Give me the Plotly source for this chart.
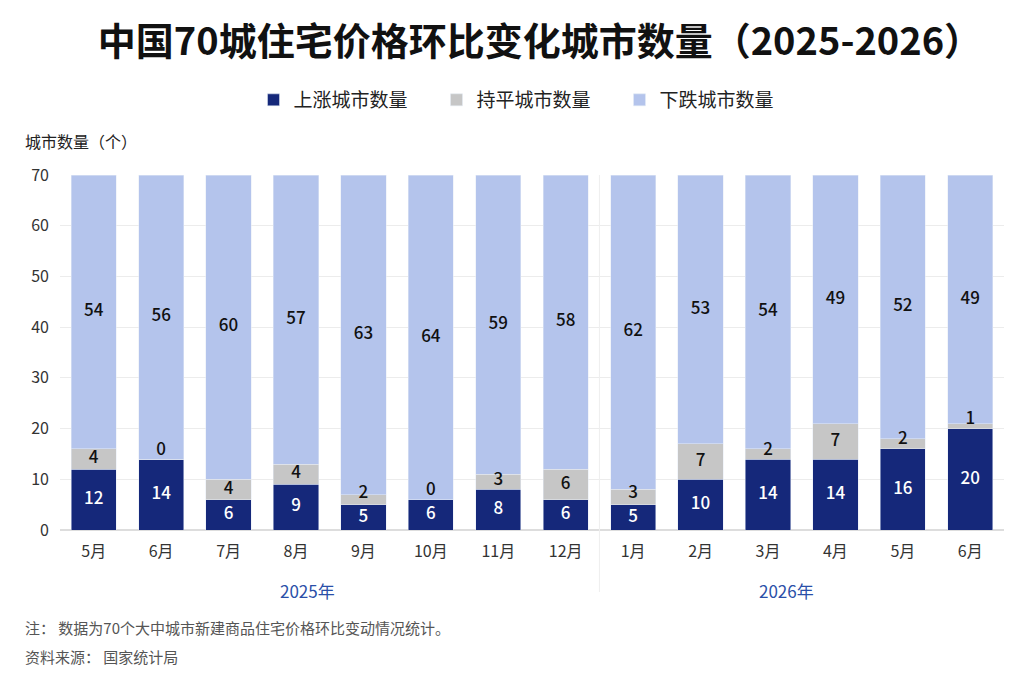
"""中国70城住宅价格环比变化城市数量（2025-2026）."""

import plotly.graph_objects as go

months = ["5月", "6月", "7月", "8月", "9月", "10月", "11月", "12月",
          "1月", "2月", "3月", "4月", "5月", "6月"]
years = ["2025年", "2026年"]
rising = [12, 14, 6, 9, 5, 6, 8, 6, 5, 10, 14, 14, 16, 20]
flat = [4, 0, 4, 4, 2, 0, 3, 6, 3, 7, 2, 7, 2, 1]
falling = [54, 56, 60, 57, 63, 64, 59, 58, 62, 53, 54, 49, 52, 49]

FONT = "Noto Sans CJK SC"
positions = list(range(len(months)))

# the page body adds an 8px margin, so the figure is 8px smaller
W, H = 1016, 675
L, R, T, B = 52, 20, 167, 153
plot_w = W - L - R
plot_h = H - T - B

fig = go.Figure()
fig.add_trace(go.Bar(x=positions, y=rising, name="上涨城市数量",
                     marker_color="#15287a"))
fig.add_trace(go.Bar(x=positions, y=flat, name="持平城市数量",
                     marker_color="#c6c6c6"))
fig.add_trace(go.Bar(x=positions, y=falling, name="下跌城市数量",
                     marker_color="#b4c4ec"))

# segment labels; thin "flat" segments get their label lifted so it
# stays clear of the label below it
base_fall = [r + f for r, f in zip(rising, flat)]
flat_y = [max(r + max(f / 2, 1.7), r / 2 + 4.7) for r, f in zip(rising, flat)]
label_sets = [
    ([r / 2 for r in rising], rising, "white"),
    (flat_y, flat, "#111111"),
    ([b + d / 2 for b, d in zip(base_fall, falling)], falling, "#111111"),
]
for ys, vals, color in label_sets:
    fig.add_trace(go.Scatter(
        x=positions, y=ys, text=[str(v) for v in vals], mode="text",
        textfont=dict(family=FONT, size=17, color=color, weight=500),
        showlegend=False, hoverinfo="skip",
    ))

fig.update_layout(
    barmode="stack",
    bargap=0.33,
    width=W,
    height=H,
    margin=dict(l=L, r=R, t=T, b=B, autoexpand=False),
    paper_bgcolor="white",
    plot_bgcolor="white",
    font=dict(family=FONT, color="#222222", size=16),
    title=dict(text="<b>中国70城住宅价格环比变化城市数量（2025-2026）</b>",
               x=532 / W, xanchor="center", y=1 - 34 / H, yanchor="middle",
               font=dict(size=38, color="#111111")),
    legend=dict(orientation="h", x=520 / W, xanchor="center",
                y=(H - B - 92) / plot_h, yanchor="middle",
                xref="container",
                font=dict(size=19, color="#222222"),
                entrywidth=138, entrywidthmode="pixels",
                traceorder="normal"),
    xaxis=dict(tickmode="array", tickvals=positions, ticktext=months,
               range=[-0.5, len(months) - 0.5], showgrid=False,
               zeroline=False, showline=False, ticks="",
               ticklabelstandoff=10,
               tickfont=dict(size=16, color="#333333")),
    yaxis=dict(range=[0, 70], dtick=10, showgrid=True, gridcolor="#ececec",
               zeroline=True, zerolinecolor="#dddddd", ticks="",
               ticklabelstandoff=10,
               tickfont=dict(size=16, color="#333333")),
)

fig.add_shape(type="line", xref="x", yref="paper", x0=7.5, x1=7.5,
              y0=-62 / plot_h, y1=1, line=dict(color="#eeeeee", width=1))

for xv, year in zip([3.17, 10.28], years):
    fig.add_annotation(x=xv, y=-60 / plot_h, xref="x", yref="paper",
                       text=year, showarrow=False, yanchor="middle",
                       font=dict(size=17, color="#2a4fa8"))


def px_note(px, py, text, size, color):
    # px, py are pixel positions in the reference picture
    fig.add_annotation(x=(px - 8 - L) / plot_w, y=(H - B - (py - 8)) / plot_h,
                       xref="paper", yref="paper", text=text,
                       showarrow=False, xanchor="left", yanchor="middle",
                       font=dict(size=size, color=color))


px_note(23, 141, "城市数量（个）", 16, "#222222")
px_note(23, 627, "注： 数据为70个大中城市新建商品住宅价格环比变动情况统计。", 15, "#555555")
px_note(23, 656, "资料来源： 国家统计局", 15, "#555555")

fig.write_html("out.html")
